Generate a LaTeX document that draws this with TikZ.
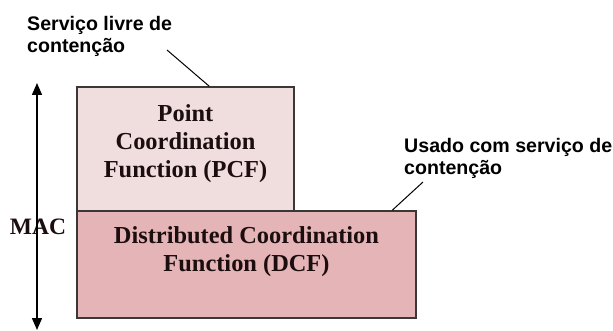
\documentclass[tikz,border=0pt]{standalone}
\usepackage{fontspec}
\setmainfont{Liberation Serif}
\newfontfamily\labelfont{Liberation Sans}
\usetikzlibrary{arrows.meta,calc}
\definecolor{pcffill}{RGB}{240,221,222}
\definecolor{dcffill}{RGB}{228,180,183}
\definecolor{boxline}{RGB}{60,55,55}
\definecolor{inkdark}{RGB}{28,14,14}
\tikzset{
  layerbox/.style={draw=boxline, line width=1.5pt, rectangle, inner sep=0pt},
  boxtext/.style={align=center, text=inkdark, inner sep=0pt,
    font=\bfseries\fontsize{24.4}{28}\selectfont},
  sidetext/.style={align=left, inner sep=0pt, text=black,
    font=\labelfont\bfseries\fontsize{19.6}{22}\selectfont},
  leader/.style={draw=black, line width=1pt},
  span/.style={line width=1.5pt, {Triangle[length=12pt,width=10pt]}-{Triangle[length=12pt,width=10pt]}}
}
\begin{document}
\begin{tikzpicture}[x=1pt,y=-1pt]
\useasboundingbox (0,0) rectangle (613,331);

% stacked MAC sublayers
\node[layerbox, fill=pcffill, minimum width=217pt, minimum height=124pt] (pcf) at (185.5,149) {};
\node[layerbox, fill=dcffill, minimum width=339pt, minimum height=107pt] (dcf) at (246.5,264.5) {};

\node[boxtext] (pcftext) at (185.5,143.5) {Point\\Coordination\\Function (PCF)};
\node[boxtext] (dcftext) at (246.5,252) {Distributed Coordination\\Function (DCF)};

% vertical extent of the MAC layer
\coordinate (spantop) at (37,83);
\coordinate (spanbot) at (37,330);
\node[font=\bfseries\fontsize{23.5}{28}\selectfont, text=inkdark, inner sep=0pt] (mac) at (38,227) {MAC};
\draw[span] (spantop) -- (spanbot);

% side annotations
\node[sidetext, anchor=west] (free) at (27,36.5) {Serviço livre de\\contenção};
\node[sidetext, anchor=west] (used) at (404,158) {Usado com serviço de\\contenção};

\coordinate (freetip) at (167,50);
\coordinate (usedtip) at (423,182);
\draw[leader] (freetip) -- ($(pcf.north west)+(133,0)$);
\draw[leader] (usedtip) -- ($(dcf.north west)+(316,0)$);
\end{tikzpicture}
\end{document}
